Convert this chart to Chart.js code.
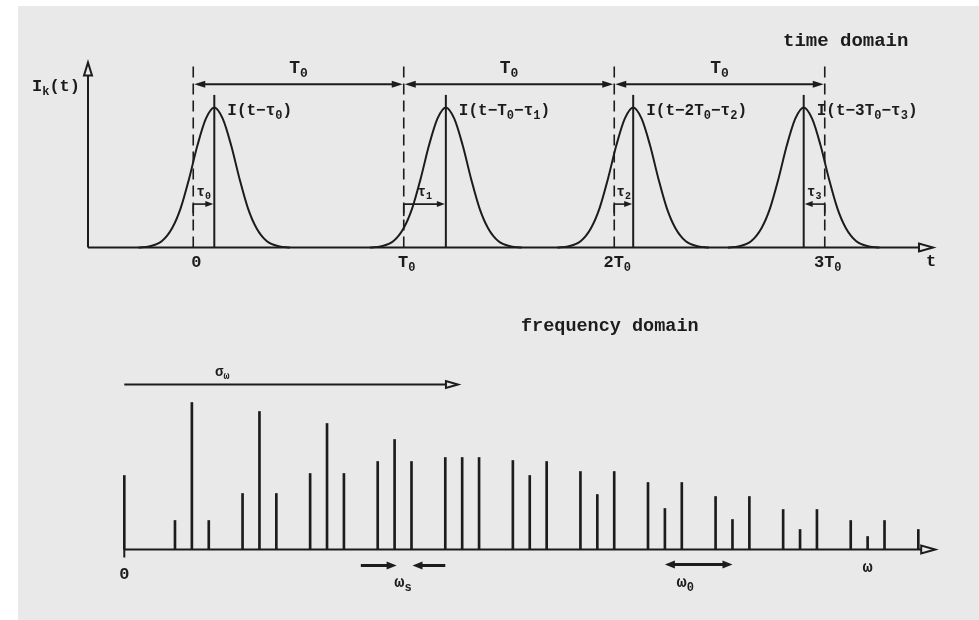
<!DOCTYPE html>
<html>
<head>
<meta charset="utf-8">
<script src="https://cdn.jsdelivr.net/npm/chart.js@4.4.1/dist/chart.umd.min.js"></script>
<style>
  html, body { margin: 0; padding: 0; background: #fff; }
  #sheet { position: absolute; left: 18px; top: 6px; width: 961px; height: 614px; background: #e9e9e9; }
  canvas { position: absolute; left: 0; top: 0; }
</style>
</head>
<body>
<div id="sheet"></div>
<canvas id="timeChart" width="979" height="620"></canvas>
<canvas id="freqChart" width="979" height="620"></canvas>
<script>
const INK = '#1c1c1c';
const PAPER = '#e9e9e9';
const FONT = "'Liberation Mono', 'DejaVu Sans Mono', monospace";

// time domain (t in units of T0)
const periodMarks = [0, 1, 2, 3];
const periodLabels = ['0', 'T_0', '2T_0', '3T_0'];
const pulseCentres = [0.10, 1.20, 2.09, 2.90];
const pulseLabels = ['I(t−τ_0)', 'I(t−T_0−τ_1)', 'I(t−2T_0−τ_2)', 'I(t−3T_0−τ_3)'];
const delayLabels = ['τ_0', 'τ_1', 'τ_2', 'τ_3'];

// shape of a single pulse: offset from its centre and relative intensity
const pulseOffsets = [-0.36, -0.31, -0.25, -0.2, -0.16, -0.12, -0.08, -0.04, 0, 0.04, 0.08, 0.12, 0.16, 0.2, 0.25, 0.31, 0.36];
const pulseShape   = [0, 0.008, 0.045, 0.14, 0.28, 0.49, 0.73, 0.92, 1, 0.92, 0.73, 0.49, 0.28, 0.14, 0.045, 0.008, 0];

// frequency domain comb (position in units of the line spacing)
const combPositions = [0, 3, 4, 5, 7, 8, 9, 11, 12, 13, 15, 16, 17, 19, 20, 21, 23, 24, 25,
                       27, 28, 29, 31, 32, 33, 35, 36, 37, 39, 40, 41, 43, 44, 45, 47];
const combHeights   = [74, 29, 147, 29, 56, 138, 56, 76, 126, 76, 88, 110, 88, 92, 92, 92, 89, 74, 88,
                       78, 55, 78, 67, 41, 67, 53, 30, 53, 40, 20, 40, 29, 13, 29, 20];

// heights of the guide lines in the time plot
const DASH_TOP = 1.31;
const PEAK_TOP = 1.09;
const SPAN_LEVEL = 1.166;
const DELAY_LEVEL = 0.31;

function line(ctx, x1, y1, x2, y2) {
    ctx.beginPath();
    ctx.moveTo(x1, y1);
    ctx.lineTo(x2, y2);
    ctx.stroke();
}

// arrow head with its tip at (x, y), pointing along (dx, dy)
function head(ctx, x, y, dx, dy, len, half, open) {
    const bx = x - dx * len, by = y - dy * len;
    ctx.beginPath();
    ctx.moveTo(x, y);
    ctx.lineTo(bx - dy * half, by + dx * half);
    ctx.lineTo(bx + dy * half, by - dx * half);
    ctx.closePath();
    if (open) {
        ctx.fillStyle = PAPER;
        ctx.fill();
        ctx.stroke();
    } else {
        ctx.fillStyle = INK;
        ctx.fill();
    }
}

// text where "_c" puts the next character in subscript
function richText(ctx, str, x, y, size, align) {
    const parts = [];
    for (let i = 0; i < str.length; i++) {
        if (str[i] === '_') { parts.push({ t: str[i + 1], sub: true }); i++; }
        else parts.push({ t: str[i], sub: false });
    }
    const subSize = Math.round(size * 0.72);
    let w = 0;
    parts.forEach(p => {
        ctx.font = `bold ${p.sub ? subSize : size}px ${FONT}`;
        p.w = ctx.measureText(p.t).width;
        w += p.w;
    });
    let cx = align === 'center' ? x - w / 2 : align === 'right' ? x - w : x;
    ctx.textAlign = 'left';
    ctx.textBaseline = 'middle';
    ctx.fillStyle = INK;
    parts.forEach(p => {
        ctx.font = `bold ${p.sub ? subSize : size}px ${FONT}`;
        ctx.fillText(p.t, cx, p.sub ? y + size * 0.32 : y);
        cx += p.w;
    });
}

const timeOverlay = {
    id: 'timeOverlay',
    afterDatasetsDraw(chart) {
        const { ctx, scales: { x, y } } = chart;
        const base = y.getPixelForValue(0);
        const left = x.getPixelForValue(-0.5);
        const right = x.getPixelForValue(3.5) + 3;
        ctx.save();
        ctx.strokeStyle = INK;
        ctx.lineWidth = 2;

        // axes
        line(ctx, left, base, right - 14, base);
        head(ctx, right, base, 1, 0, 14, 4, true);
        const top = y.getPixelForValue(1.3) - 3;
        line(ctx, left, base, left, top + 13);
        head(ctx, left, top, 0, -1, 13, 4, true);

        // one period between neighbouring marks
        const spanY = y.getPixelForValue(SPAN_LEVEL);
        for (let k = 0; k < periodMarks.length - 1; k++) {
            const a = x.getPixelForValue(periodMarks[k]) + 1;
            const b = x.getPixelForValue(periodMarks[k + 1]) - 1;
            line(ctx, a + 8, spanY, b - 8, spanY);
            head(ctx, a, spanY, -1, 0, 11, 3.5, false);
            head(ctx, b, spanY, 1, 0, 11, 3.5, false);
            richText(ctx, 'T_0', (a + b) / 2, spanY - 16, 18, 'center');
        }

        // delay of each pulse from its period mark
        const delayY = y.getPixelForValue(DELAY_LEVEL);
        ctx.lineWidth = 1.6;
        pulseCentres.forEach((c, i) => {
            const a = x.getPixelForValue(periodMarks[i]);
            const b = x.getPixelForValue(c);
            const dir = b > a ? 1 : -1;
            line(ctx, a, delayY, b - dir * 7, delayY);
            line(ctx, a, delayY, a, delayY + 12);
            head(ctx, b - dir * 1, delayY, dir, 0, 8, 3, false);
            richText(ctx, delayLabels[i], (a + b) / 2, delayY - 12, 14, 'center');
        });

        // pulse names
        const peakY = y.getPixelForValue(1);
        pulseCentres.forEach((c, i) => {
            richText(ctx, pulseLabels[i], x.getPixelForValue(c) + 13, peakY + 3.5, 16, 'left');
        });

        // tick labels
        periodMarks.forEach((m, i) => {
            richText(ctx, periodLabels[i], x.getPixelForValue(m) + 3, base + 15, 17, 'center');
        });
        richText(ctx, 't', right - 2, base + 14, 17, 'center');
        richText(ctx, 'I_k(t)', left - 8, y.getPixelForValue(1.15), 17, 'right');

        ctx.font = `bold 19px ${FONT}`;
        ctx.textAlign = 'left';
        ctx.textBaseline = 'alphabetic';
        ctx.fillStyle = INK;
        ctx.fillText('time domain', 783, 46);
        ctx.restore();
    }
};

const freqOverlay = {
    id: 'freqOverlay',
    afterDatasetsDraw(chart) {
        const { ctx, scales: { x, y } } = chart;
        const base = y.getPixelForValue(0);
        const left = x.getPixelForValue(0);
        const right = x.getPixelForValue(48);
        ctx.save();
        ctx.strokeStyle = INK;
        ctx.lineWidth = 2;

        // axis with a tick at the origin
        line(ctx, left, base, right - 14, base);
        head(ctx, right, base, 1, 0, 14, 4, true);
        line(ctx, left, base, left, base + 8);

        // spectral width
        const sigY = y.getPixelForValue(165);
        const sigEnd = x.getPixelForValue(19.75);
        line(ctx, left, sigY, sigEnd - 12, sigY);
        head(ctx, sigEnd, sigY, 1, 0, 12, 3.5, true);
        richText(ctx, 'σ_ω', x.getPixelForValue(5.8), sigY - 12, 14, 'center');

        // line spacing and repetition rate
        const arrY = base + 16;
        ctx.lineWidth = 3;
        const s1 = x.getPixelForValue(14), s2 = x.getPixelForValue(16) + 2;
        line(ctx, s1, arrY, s2 - 8, arrY);
        head(ctx, s2, arrY, 1, 0, 10, 4, false);
        const s3 = x.getPixelForValue(19), s4 = x.getPixelForValue(17) + 1;
        line(ctx, s3, arrY, s4 + 8, arrY);
        head(ctx, s4, arrY, -1, 0, 10, 4, false);
        richText(ctx, 'ω_s', x.getPixelForValue(16.5), arrY + 17, 17, 'center');

        const r1 = x.getPixelForValue(32), r2 = x.getPixelForValue(36);
        line(ctx, r1 + 8, arrY - 1, r2 - 8, arrY - 1);
        head(ctx, r1, arrY - 1, -1, 0, 10, 4, false);
        head(ctx, r2, arrY - 1, 1, 0, 10, 4, false);
        richText(ctx, 'ω_0', x.getPixelForValue(33.2), arrY + 17, 17, 'center');

        richText(ctx, 'ω', x.getPixelForValue(44), base + 18, 17, 'center');
        richText(ctx, '0', left, base + 25, 17, 'center');

        ctx.font = `bold 18.5px ${FONT}`;
        ctx.textAlign = 'left';
        ctx.textBaseline = 'alphabetic';
        ctx.fillStyle = INK;
        ctx.fillText('frequency domain', 521, 331);
        ctx.restore();
    }
};

const hidden = { display: false };

// time domain chart
const pulseData = pulseCentres.map(c => pulseOffsets.map((dx, i) => ({ x: c + dx, y: pulseShape[i] })));
const timeDatasets = [
    ...pulseData.map(d => ({
        data: d, borderColor: INK, borderWidth: 2, pointRadius: 0,
        tension: 0.4, cubicInterpolationMode: 'monotone', clip: false,
    })),
    ...periodMarks.map(m => ({
        data: [{ x: m, y: 0 }, { x: m, y: DASH_TOP }],
        borderColor: INK, borderWidth: 1.6, borderDash: [11, 6], pointRadius: 0, clip: false,
    })),
    ...pulseCentres.map(c => ({
        data: [{ x: c, y: 0 }, { x: c, y: PEAK_TOP }],
        borderColor: INK, borderWidth: 2, pointRadius: 0, clip: false,
    })),
];

new Chart(document.getElementById('timeChart'), {
    type: 'line',
    data: { datasets: timeDatasets },
    options: {
        responsive: false,
        animation: false,
        events: [],
        layout: { padding: { left: 88, right: 49, top: 65.5, bottom: 372.5 } },
        plugins: { legend: hidden, tooltip: { enabled: false } },
        scales: {
            x: { type: 'linear', min: -0.5, max: 3.5, display: false },
            y: { type: 'linear', min: 0, max: 1.3, display: false },
        },
    },
    plugins: [timeOverlay],
});

// frequency domain chart
new Chart(document.getElementById('freqChart'), {
    type: 'bar',
    data: {
        datasets: [{
            data: combPositions.map((p, i) => ({ x: p, y: combHeights[i] })),
            backgroundColor: INK,
            barThickness: 2,
            clip: false,
        }],
    },
    options: {
        responsive: false,
        animation: false,
        events: [],
        layout: { padding: { left: 124.3, right: 43.8, top: 389.5, bottom: 70.5 } },
        plugins: { legend: hidden, tooltip: { enabled: false } },
        scales: {
            x: { type: 'linear', min: 0, max: 48, offset: false, display: false },
            y: { type: 'linear', min: 0, max: 160, display: false },
        },
    },
    plugins: [freqOverlay],
});
</script>
</body>
</html>
